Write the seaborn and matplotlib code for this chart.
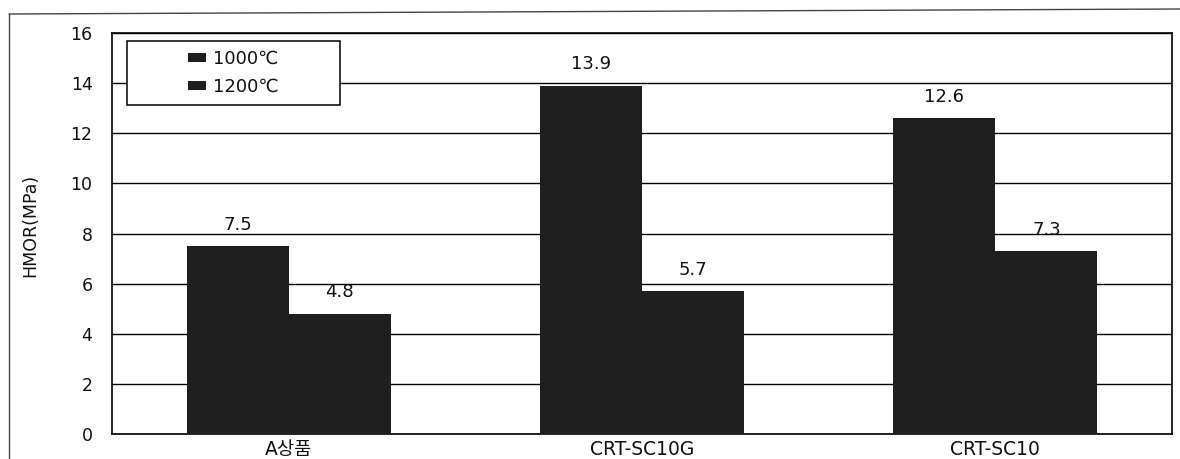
import matplotlib
matplotlib.use("Agg")
import matplotlib.pyplot as plt
from matplotlib.patches import Rectangle
from matplotlib.lines import Line2D
import seaborn as sns
import pandas as pd

# Hot modulus of rupture by sample and firing temperature
categories = ["A상품", "CRT-SC10G", "CRT-SC10"]
temperatures = ["1000℃", "1200℃"]
hmor_1000 = [7.5, 13.9, 12.6]
hmor_1200 = [4.8, 5.7, 7.3]
y_ticks = [0, 2, 4, 6, 8, 10, 12, 14, 16]

df = pd.DataFrame({
    "sample": categories * 2,
    "temp": [temperatures[0]] * 3 + [temperatures[1]] * 3,
    "hmor": hmor_1000 + hmor_1200,
})

sns.set_theme(style="white")
plt.rcParams["font.family"] = ["DejaVu Sans", "Noto Sans CJK KR"]

fig = plt.figure(figsize=(11.8, 4.59), dpi=100)
ax = fig.add_axes([112 / 1180, 1 - 434 / 459, (1172 - 112) / 1180, (434 - 33) / 459])

bar_color = "#1f1f1f"
sns.barplot(data=df, x="sample", y="hmor", hue="temp", order=categories,
            hue_order=temperatures, palette=[bar_color, bar_color],
            width=0.578, gap=0, edgecolor="none", linewidth=0,
            errorbar=None, ax=ax, zorder=3, legend=True)

ax.set_ylim(0, 16)
ax.set_xlim(-0.5, 2.5)
ax.set_yticks(y_ticks)
ax.set_yticklabels([str(t) for t in y_ticks])
ax.grid(axis="y", color="black", linewidth=1.0, zorder=0)
ax.set_axisbelow(True)
for s in ax.spines.values():
    s.set_color("black")
    s.set_linewidth(1.2)
    s.set_visible(True)

ax.tick_params(axis="y", length=0, pad=14, labelsize=12.5, colors="#111111")
ax.tick_params(axis="x", which="major", length=0, pad=4, labelsize=13.5, colors="#111111")
ax.set_xticks([0.5, 1.5], minor=True)
ax.tick_params(axis="x", which="minor", direction="in", length=4, width=1, color="black")

ax.set_xlabel("")
ax.set_ylabel("HMOR(MPa)", fontsize=12.5, va="center", color="#111111")
ax.yaxis.set_label_coords(-0.0774, 0.519)

for cont in ax.containers:
    ax.bar_label(cont, fmt="%.1f", padding=9, fontsize=13, color="#111111")

# Legend inside a plain rectangular box
leg = ax.get_legend()
handles = leg.legend_handles
leg.remove()
box = Rectangle((0.01415, 0.8204), 0.2151 - 0.01415, 0.980 - 0.8204,
                transform=ax.transAxes, facecolor="white", edgecolor="black",
                linewidth=1.1, zorder=5)
ax.add_patch(box)
leg = ax.legend(handles, temperatures, loc="center",
                bbox_to_anchor=(0.1146, 0.9002), frameon=False,
                fontsize=13, handlelength=0.95, handleheight=0.45,
                handletextpad=0.4, labelspacing=0.55, borderpad=0)
leg.set_zorder(6)
for t in leg.get_texts():
    t.set_color("#111111")

# Outer frame around the figure
fig.add_artist(Line2D([9 / 1180, 1.0], [1 - 14 / 459, 1 - 9 / 459],
                      transform=fig.transFigure, color="#444444", linewidth=1.0))
fig.add_artist(Line2D([9 / 1180, 9 / 1180], [1 - 14 / 459, 0.0],
                      transform=fig.transFigure, color="#444444", linewidth=1.0))

fig.savefig("out.png", dpi=100, facecolor="white")
